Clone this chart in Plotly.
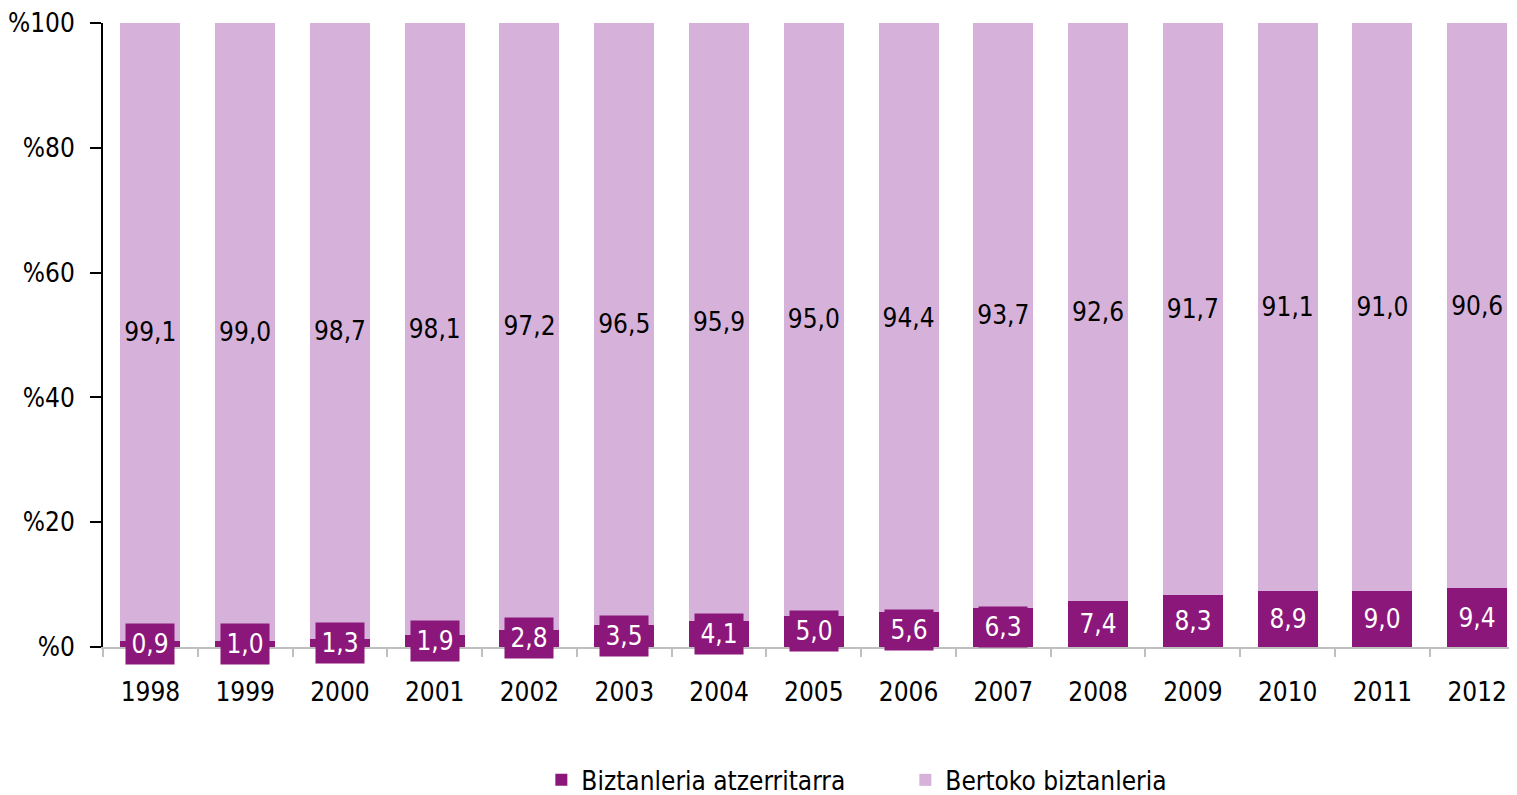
import plotly.graph_objects as go

years = ["1998", "1999", "2000", "2001", "2002", "2003", "2004", "2005",
         "2006", "2007", "2008", "2009", "2010", "2011", "2012"]
atzerritarra = [0.9, 1.0, 1.3, 1.9, 2.8, 3.5, 4.1, 5.0, 5.6, 6.3, 7.4, 8.3, 8.9, 9.0, 9.4]
bertoko = [99.1, 99.0, 98.7, 98.1, 97.2, 96.5, 95.9, 95.0, 94.4, 93.7, 92.6, 91.7, 91.1, 91.0, 90.6]
y_ticks = [0, 20, 40, 60, 80, 100]
y_ticktext = ["%0", "%20", "%40", "%60", "%80", "%100"]

DARK = "#8B177A"
LIGHT = "#D6B2DA"
FONT = "DejaVu Sans Condensed, Liberation Sans Narrow, sans-serif"
FS = 26

def fmt(v):
    return f"{v:.1f}".replace(".", ",")

fig = go.Figure()
fig.add_trace(go.Bar(
    x=years, y=atzerritarra, name="Biztanleria atzerritarra",
    marker=dict(color=DARK, line=dict(width=0)),
))
fig.add_trace(go.Bar(
    x=years, y=bertoko, name="Bertoko biztanleria",
    marker=dict(color=LIGHT, line=dict(width=0)),
    text=[fmt(v) for v in bertoko], textposition="inside",
    insidetextanchor="middle", textangle=0,
    textfont=dict(color="black", size=FS, family=FONT),
))

for i, v in enumerate(atzerritarra):
    fig.add_annotation(
        x=i, y=v / 2, text=fmt(v), showarrow=False,
        font=dict(color="white", size=FS, family=FONT),
        bgcolor=DARK, width=48, height=40, borderpad=0,
        xanchor="center", yanchor="middle",
    )

fig.update_layout(
    barmode="stack", bargap=0.367,
    width=1509, height=787,
    margin=dict(l=95, r=0, t=15, b=148, autoexpand=False),
    plot_bgcolor="white", paper_bgcolor="white",
    font=dict(family=FONT, size=FS, color="black"),
    showlegend=True,
    legend=dict(orientation="h", x=0.31, xanchor="left", y=-0.213, yanchor="middle",
                traceorder="normal", font=dict(size=FS, family=FONT),
                itemwidth=30, entrywidth=319),
    xaxis=dict(
        type="category", tickson="boundaries", ticks="outside", ticklen=8,
        tickcolor="#BFBFBF", tickwidth=2, showline=True, linecolor="#BFBFBF",
        linewidth=2, showgrid=False, tickfont=dict(size=FS, family=FONT),
        tickangle=0, automargin=False, ticklabelstandoff=21,
        range=[-0.5, 14.42],
    ),
    yaxis=dict(
        range=[0, 100], tickvals=y_ticks, ticktext=y_ticktext, ticks="outside",
        ticklen=11, tickcolor="black", tickwidth=2, showline=True,
        linecolor="black", linewidth=2, showgrid=False, zeroline=False,
        tickfont=dict(size=FS, family=FONT), automargin=False,
        ticklabelstandoff=10,
    ),
)

fig.write_html("out.html")
